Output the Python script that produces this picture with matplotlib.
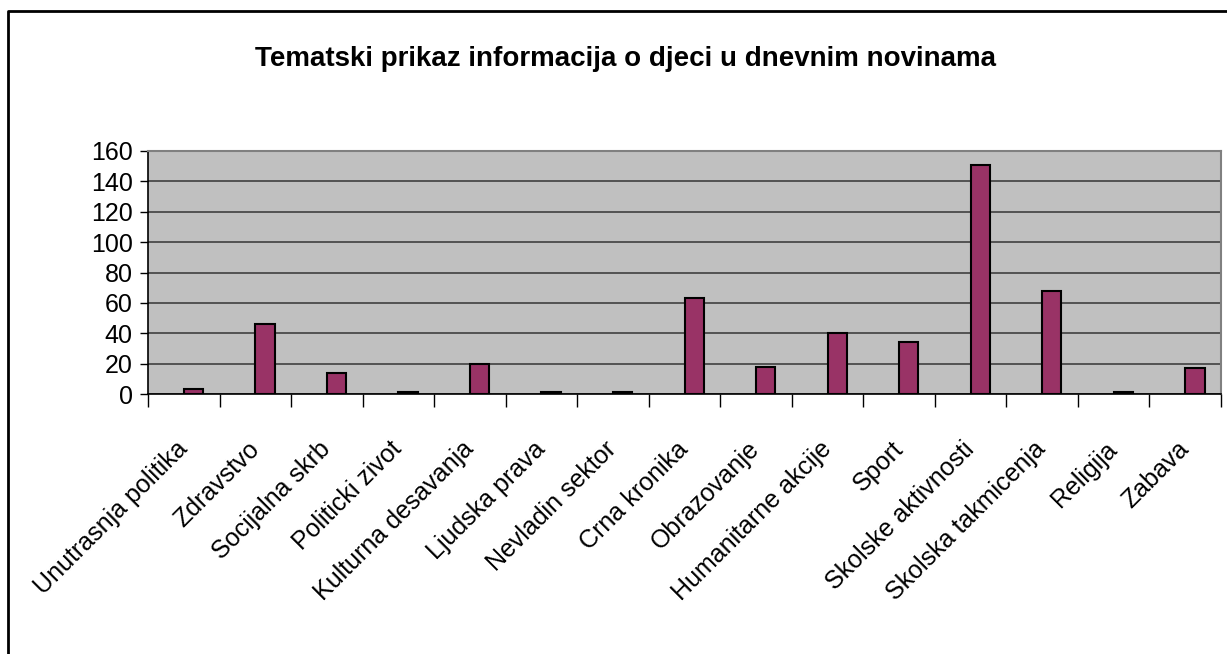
import numpy as np
import matplotlib
matplotlib.use('Agg')
import matplotlib.pyplot as plt
from matplotlib.lines import Line2D

categories = ['Unutrasnja politika', 'Zdravstvo', 'Socijalna skrb', 'Politicki zivot',
              'Kulturna desavanja', 'Ljudska prava', 'Nevladin sektor', 'Crna kronika',
              'Obrazovanje', 'Humanitarne akcije', 'Sport', 'Skolske aktivnosti',
              'Skolska takmicenja', 'Religija', 'Zabava']
values = [3, 46, 14, 1, 20, 1, 1, 63, 18, 40, 34, 151, 68, 1, 17]
yticks = [0, 20, 40, 60, 80, 100, 120, 140, 160]
title = 'Tematski prikaz informacija o djeci u dnevnim novinama'

plt.rcParams['font.family'] = ['Liberation Sans', 'DejaVu Sans']

fig = plt.figure(figsize=(12.27, 6.54), dpi=100)
ax = fig.add_axes([148 / 1227, 1 - 394 / 654, (1221 - 148) / 1227, (394 - 151) / 654])
ax.set_facecolor('#c0c0c0')

x = np.arange(len(categories))
ax.bar(x + 0.135, values, width=0.27, color='#993366', edgecolor='black', linewidth=1.5, zorder=3)

ax.set_xlim(-0.5, len(categories) - 0.5)
ax.set_ylim(0, 160)
ax.set_yticks(yticks)
ax.set_yticklabels([str(v) for v in yticks], fontsize=18)
ax.yaxis.grid(True, color='#404040', linewidth=1.2, zorder=1)
ax.set_axisbelow(True)

ax.set_xticks(x)
ax.set_xticklabels(categories, fontsize=18, rotation=45, ha='right', va='center',
                   rotation_mode='anchor')
ax.set_xticks(np.arange(len(categories) + 1) - 0.5, minor=True)
ax.tick_params(axis='x', which='major', length=0, pad=37)
ax.tick_params(axis='x', which='minor', length=9, width=1, color='black')
ax.tick_params(axis='y', length=6, width=1, pad=5)

for s in ['top', 'right']:
    ax.spines[s].set_color('#808080')
    ax.spines[s].set_linewidth(1.5)
for s in ['left', 'bottom']:
    ax.spines[s].set_color('black')
    ax.spines[s].set_linewidth(1.2)

fig.text(0.5095, 0.91, title, ha='center', va='center', fontsize=20, fontweight='bold')

# frame of the chart area, cut off at right and bottom
fig.add_artist(Line2D([8 / 1227, 8 / 1227, 1.05], [-0.05, 1 - 11 / 654, 1 - 11 / 654],
                      transform=fig.transFigure, color='black', linewidth=2))

fig.savefig('out.png', dpi=100)
